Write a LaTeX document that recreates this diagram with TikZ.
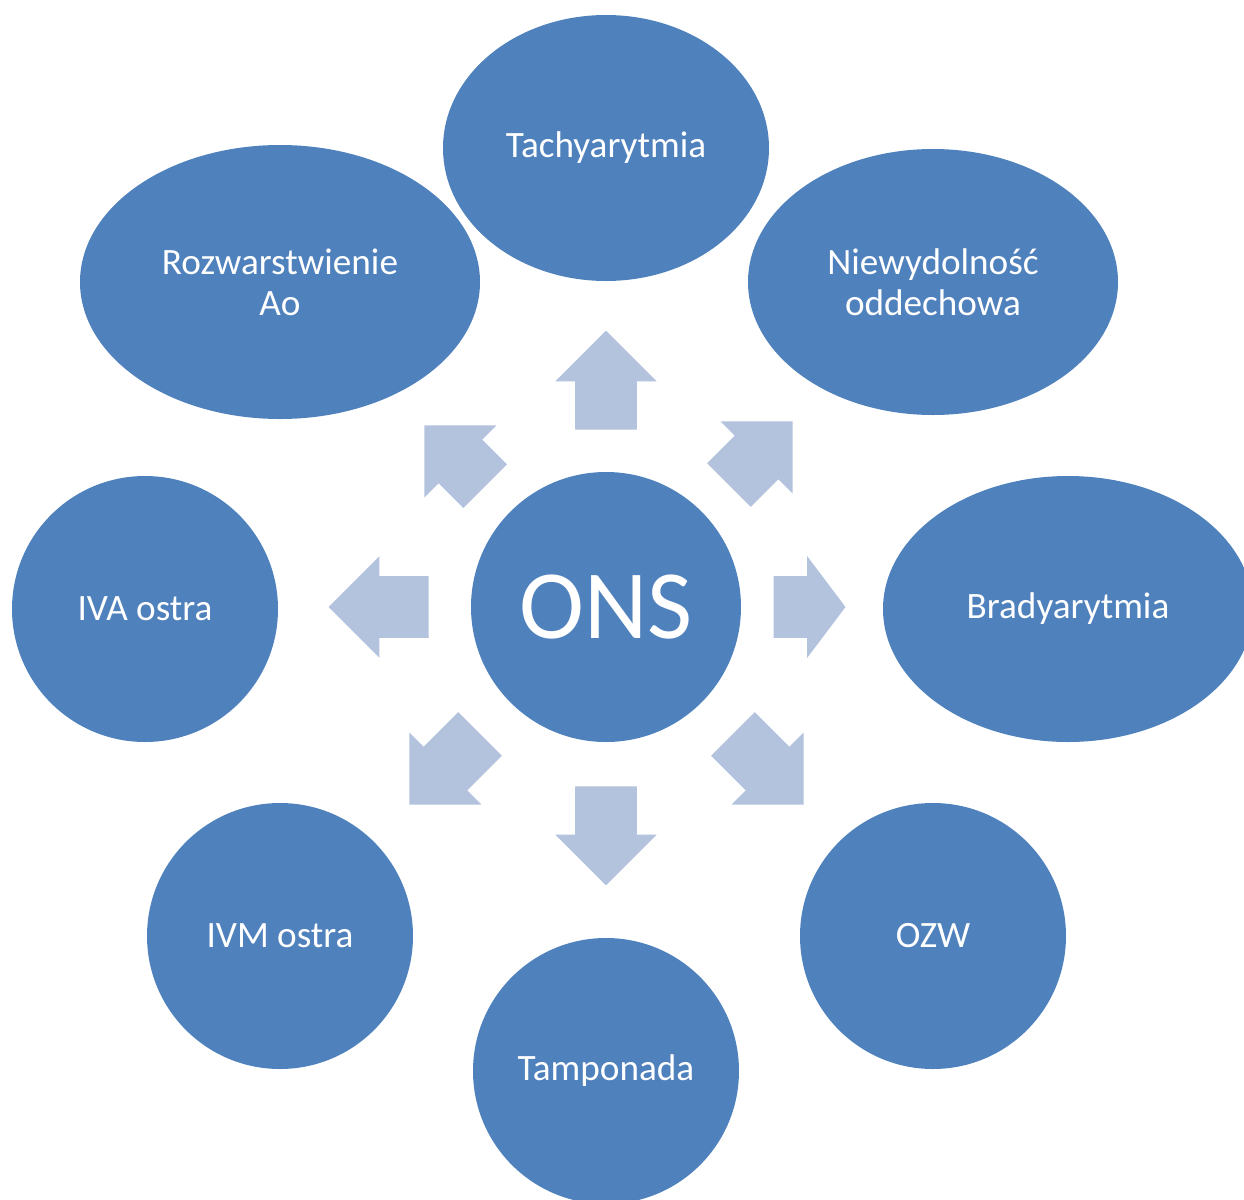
\documentclass[tikz,border=0pt]{standalone}
\usepackage{fontspec}
\setmainfont{Carlito}
\usepackage{tikz}
\usetikzlibrary{shapes.geometric, shapes.arrows, positioning, calc}
\definecolor{ellblue}{HTML}{4F81BD}
\definecolor{arrblue}{HTML}{B3C2DD}
\tikzset{
  cause/.style={ellipse, inner sep=0pt, fill=ellblue, text=white, align=center, font=\fontsize{18.6}{20.5}\selectfont},
  hub/.style={ellipse, inner sep=0pt, fill=ellblue, text=white, minimum width=135pt, minimum height=135pt, font=\fontsize{49}{55}\selectfont},
  blockarrow/.style={single arrow, fill=arrblue, inner sep=0pt, text height=30.5pt, text depth=0pt, minimum width=50.5pt, single arrow head extend=10pt, single arrow tip angle=90, anchor=tip}
}
\begin{document}
\begin{tikzpicture}[x=0.5pt, y=-0.5pt]
  \useasboundingbox (0,0) rectangle (1244,1200);
  \clip (0,0) rectangle (1244,1200);
  % centre and surrounding causes
  \node (ons) [hub] at (606,607) {ONS};
  \node (tach) [cause, minimum width=163pt, minimum height=133pt] at (606,148) {Tachyarytmia};
  \node (rozw) [cause, minimum width=200pt, minimum height=137pt] at (280,282) {Rozwarstwienie\\Ao};
  \node (niew) [cause, minimum width=185pt, minimum height=133pt] at (933,282) {Niewydolność\\oddechowa};
  \node (brad) [cause, minimum width=185pt, minimum height=133pt] at (1068,609) {Bradyarytmia};
  \node (iva) [cause, minimum width=133pt, minimum height=133pt] at (145,609) {IVA ostra};
  \node (ivm) [cause, minimum width=133pt, minimum height=133pt] at (280,936) {IVM ostra};
  \node (ozw) [cause, minimum width=133pt, minimum height=133pt] at (933,936) {OZW};
  \node (tamp) [cause, minimum width=133pt, minimum height=133pt] at (606,1071) {Tamponada};
  % block arrows, placed by their tips
  \node (toTach) [blockarrow, minimum height=49.5pt, rotate=90] at (606,330) {};
  \node (toRozw) [blockarrow, minimum height=43pt, rotate=135] at (424,425) {};
  \node (toNiew) [blockarrow, minimum height=45pt, rotate=45] at (793,421) {};
  \node (toIva) [blockarrow, minimum height=50pt, rotate=180] at (328,607) {};
  \node (toBrad) [blockarrow, minimum height=36pt, single arrow tip angle=106, rotate=0] at (846,607) {};
  \node (toIvm) [blockarrow, minimum height=50pt, rotate=225] at (409,805) {};
  \node (toOzw) [blockarrow, minimum height=50pt, rotate=-45] at (804,805) {};
  \node (toTamp) [blockarrow, minimum height=49.5pt, rotate=-90] at (606,886) {};
\end{tikzpicture}
\end{document}
